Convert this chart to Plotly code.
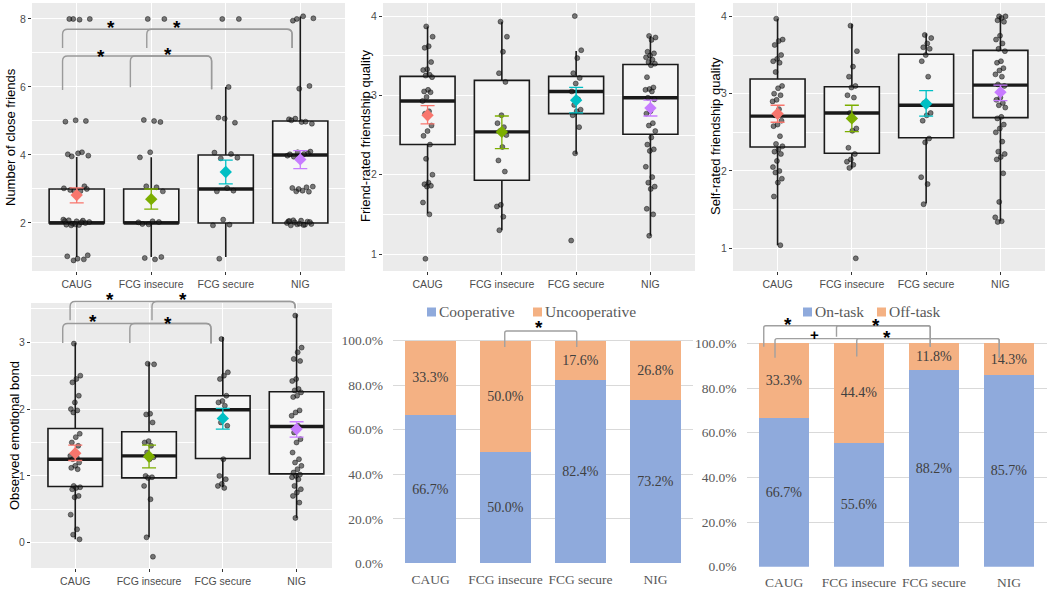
import plotly.graph_objects as go

W, H = 1050, 592

groups = ["CAUG", "FCG insecure", "FCG secure", "NIG"]
group_colors = ["#F8766D", "#7CAE00", "#00BFC4", "#C77CFF"]

# ---------------- Panel 1: Number of close friends ----------------
cf_caug = [8.0, 8.0, 7.98, 8.0, 5.0, 5.02, 4.98, 4.08, 3.96, 3.98, 4.05, 4.02, 3.08, 2.95,
           3.02, 2.94, 2.97, 3.0, 2.05, 1.95, 2.07, 1.98, 2.03, 1.94, 2.08, 2.0, 1.96, 2.06,
           2.02, 1.93, 1.05, 0.95, 1.02, 0.93, 0.9, 2.1]
cf_fcg_insecure = [8.0, 8.0, 5.0, 5.03, 4.97, 4.08, 3.93, 3.05, 3.08, 2.93, 2.05, 1.97,
                   2.03, 1.96, 2.02, 0.93, 0.97, 1.0]
cf_fcg_secure = [8.0, 8.0, 6.0, 5.1, 4.95, 5.07, 4.07, 4.03, 3.9, 3.92, 3.03, 2.93, 2.95,
                 2.1, 1.93, 1.95, 0.95]
cf_nig = [8.0, 8.02, 8.08, 7.95, 6.03, 5.95, 5.05, 4.98, 5.07, 4.92, 4.97, 5.02, 4.05, 4.08,
          3.98, 4.03, 3.95, 4.1, 3.97, 4.02, 3.05, 2.93, 3.07, 2.95, 3.03, 2.92, 3.0, 2.05,
          1.95, 2.02, 1.97, 2.07, 1.93, 2.04, 1.96, 2.0, 1.94, 2.08, 2.03, 1.98, 2.06]
cf_q1 = [2.0, 2.0, 2.0, 2.0]
cf_median = [2.0, 2.0, 3.0, 4.0]
cf_q3 = [3.0, 3.0, 4.0, 5.0]
cf_whisker_lo = [1.0, 1.0, 1.0, 2.0]
cf_whisker_hi = [3.94, 3.93, 6.0, 8.07]
cf_mean = [2.82, 2.70, 3.50, 3.87]
cf_ci_lo = [2.59, 2.41, 3.15, 3.60]
cf_ci_hi = [3.03, 3.00, 3.85, 4.13]

# ---------------- Panel 2: Friend-rated friendship quality ----------------
fr_caug = [3.87, 3.74, 3.62, 3.6, 3.42, 3.33, 3.32, 3.26, 3.25, 3.23, 3.07, 3.05, 3.04, 2.98,
           2.93, 2.8, 2.77, 2.62, 2.55, 2.49, 2.38, 2.2, 2.0, 1.9, 1.88, 1.86, 1.85, 1.65,
           1.5, 0.94]
fr_fcg_insecure = [3.93, 3.74, 3.55, 3.28, 3.17, 2.75, 2.65, 2.6, 2.55, 2.5, 2.35, 2.18,
                   2.04, 1.62, 1.6, 1.47, 1.3]
fr_fcg_secure = [4.0, 3.57, 3.47, 3.28, 3.22, 3.15, 3.05, 2.95, 2.88, 2.82, 2.8, 2.75, 2.6,
                 2.27, 1.17]
fr_nig = [3.75, 3.73, 3.7, 3.55, 3.53, 3.5, 3.48, 3.45, 3.42, 3.4, 3.38, 3.23, 3.1, 3.08,
          3.07, 3.05, 2.97, 2.95, 2.8, 2.77, 2.65, 2.62, 2.55, 2.47, 2.38, 2.32, 2.3, 2.1,
          1.97, 1.9, 1.85, 1.82, 1.57, 1.5, 1.23]
fr_q1 = [2.38, 1.93, 2.77, 2.51]
fr_median = [2.93, 2.54, 3.05, 2.97]
fr_q3 = [3.24, 3.19, 3.24, 3.39]
fr_whisker_lo = [1.51, 1.30, 2.26, 1.23]
fr_whisker_hi = [3.87, 3.93, 3.56, 3.75]
fr_mean = [2.75, 2.54, 2.94, 2.84]
fr_ci_lo = [2.64, 2.33, 2.78, 2.74]
fr_ci_hi = [2.87, 2.74, 3.10, 2.94]

# ---------------- Panel 3: Self-rated friendship quality ----------------
sr_caug = [3.97, 3.7, 3.68, 3.63, 3.5, 3.45, 3.42, 3.4, 3.28, 3.1, 3.07, 3.0, 2.98, 2.92,
           2.9, 2.8, 2.72, 2.65, 2.6, 2.58, 2.45, 2.35, 2.32, 2.28, 2.25, 2.22, 2.13, 2.05,
           2.0, 1.98, 1.9, 1.85, 1.67, 1.04]
sr_fcg_insecure = [3.88, 3.55, 3.35, 3.22, 3.1, 3.08, 2.98, 2.95, 2.75, 2.55, 2.52, 2.3,
                   2.22, 2.15, 2.12, 2.08, 2.04, 0.87]
sr_fcg_secure = [3.76, 3.72, 3.65, 3.6, 3.58, 3.5, 3.42, 3.22, 2.88, 2.75, 2.72, 2.65, 2.42,
                 2.37, 1.92, 1.83, 1.57]
sr_nig = [4.0, 4.0, 3.98, 3.95, 3.93, 3.75, 3.7, 3.65, 3.58, 3.55, 3.42, 3.4, 3.33, 3.3,
          3.25, 3.22, 3.12, 3.1, 2.95, 2.92, 2.88, 2.85, 2.82, 2.7, 2.68, 2.6, 2.55, 2.5,
          2.38, 2.25, 2.22, 2.18, 2.15, 1.97, 1.6, 1.4, 1.35, 1.34]
sr_q1 = [2.31, 2.23, 2.43, 2.69]
sr_median = [2.71, 2.75, 2.85, 3.11]
sr_q3 = [3.19, 3.09, 3.51, 3.56]
sr_whisker_lo = [1.04, 2.03, 1.58, 1.35]
sr_whisker_hi = [3.97, 3.90, 3.78, 4.0]
sr_mean = [2.74, 2.68, 2.87, 3.02]
sr_ci_lo = [2.63, 2.51, 2.71, 2.91]
sr_ci_hi = [2.85, 2.85, 3.04, 3.11]

# ---------------- Panel 4: Observed emotional bond ----------------
eb_caug = [2.98, 2.5, 2.45, 2.4, 2.2, 2.1, 2.0, 1.98, 1.95, 1.63, 1.58, 1.5, 1.45, 1.35, 1.3,
           1.28, 1.25, 1.2, 1.15, 1.12, 1.1, 0.85, 0.83, 0.82, 0.8, 0.7, 0.68, 0.42, 0.2,
           0.12, 0.05]
eb_fcg_insecure = [2.68, 2.67, 1.93, 1.92, 1.8, 1.52, 1.5, 1.45, 1.35, 1.28, 1.25, 1.0, 0.98,
                   0.97, 0.85, 0.65, 0.08, -0.21]
eb_fcg_secure = [3.05, 2.55, 2.5, 2.45, 2.2, 2.12, 2.1, 2.05, 1.8, 1.75, 1.25, 1.0, 0.95,
                 0.88, 0.85, 0.82]
eb_nig = [3.4, 2.92, 2.85, 2.75, 2.72, 2.45, 2.42, 2.3, 2.28, 2.25, 2.2, 2.18, 1.98, 1.95,
          1.9, 1.75, 1.65, 1.55, 1.5, 1.35, 1.25, 1.2, 1.15, 1.1, 1.05, 1.02, 1.0, 0.98, 0.95,
          0.85, 0.8, 0.75, 0.7, 0.6, 0.37]
eb_q1 = [0.84, 0.97, 1.26, 1.03]
eb_median = [1.25, 1.30, 1.99, 1.74]
eb_q3 = [1.71, 1.66, 2.20, 2.26]
eb_whisker_lo = [0.05, 0.08, 0.83, 0.37]
eb_whisker_hi = [2.99, 2.70, 3.08, 3.42]
eb_mean = [1.34, 1.29, 1.86, 1.70]
eb_ci_lo = [1.23, 1.12, 1.70, 1.58]
eb_ci_hi = [1.46, 1.46, 2.01, 1.81]

# ---------------- Panels 5 & 6: stacked percentages ----------------
cooperative = [66.7, 50.0, 82.4, 73.2]
uncooperative = [33.3, 50.0, 17.6, 26.8]
on_task = [66.7, 55.6, 88.2, 85.7]
off_task = [33.3, 44.4, 11.8, 14.3]
pct_ticks = [0, 20, 40, 60, 80, 100]

blue, orange = "#8FAADC", "#F4B183"

# ---------------- layout geometry (pixels) ----------------
PANELS = {
    1: dict(xpx=(32, 345), ypx=(3, 271), xr=(0.4, 4.6), yr=(0.588, 8.47)),
    2: dict(xpx=(383, 695), ypx=(3, 271), xr=(0.4, 4.6), yr=(0.786, 4.165)),
    3: dict(xpx=(733, 1045), ypx=(3, 271), xr=(0.4, 4.6), yr=(0.706, 4.173)),
    4: dict(xpx=(31, 332), ypx=(303, 568), xr=(0.4, 4.48), yr=(-0.379, 3.588)),
    5: dict(xpx=(393, 693), ypx=(300, 563.3), xr=(-0.5, 3.5), yr=(0, 118.3)),
    6: dict(xpx=(746.5, 1046.5), ypx=(300, 566.7), xr=(-0.5, 3.5), yr=(0, 119.4)),
}

fig = go.Figure()


def sfx(p):
    return "" if p == 1 else str(p)


def to_px(p, xd, yd):
    P = PANELS[p]
    x0, x1 = P["xpx"]
    y0, y1 = P["ypx"]
    xr, yr = P["xr"], P["yr"]
    px = x0 + (xd - xr[0]) / (xr[1] - xr[0]) * (x1 - x0)
    py = y1 - (yd - yr[0]) / (yr[1] - yr[0]) * (y1 - y0)
    return px, py


def X(px):
    return px / W


def Y(py):
    return 1 - py / H


def jitter(n, spread):
    return [spread * (2 * ((k * 0.6180339887 + 0.37) % 1.0) - 1) for k in range(n)]


def add_box_panel(p, point_lists, q1, med, q3, lo, hi, mean, ci_lo, ci_hi, spread):
    xa, ya = "x" + sfx(p), "y" + sfx(p)
    xs = [1, 2, 3, 4]
    bw = 0.74
    fig.add_trace(go.Box(x=xs, q1=q1, median=med, q3=q3, lowerfence=lo, upperfence=hi,
                         width=bw, whiskerwidth=0, boxpoints=False, fillcolor="#F5F5F5",
                         line=dict(color="#1A1A1A", width=1.6), xaxis=xa, yaxis=ya,
                         showlegend=False, hoverinfo="skip"))
    mx, my = [], []
    for i, m in enumerate(med):
        mx += [xs[i] - bw / 2, xs[i] + bw / 2, None]
        my += [m, m, None]
    fig.add_trace(go.Scatter(x=mx, y=my, mode="lines", line=dict(color="#1A1A1A", width=3.4),
                             xaxis=xa, yaxis=ya, showlegend=False, hoverinfo="skip"))
    px, py = [], []
    for i, vals in enumerate(point_lists):
        offs = jitter(len(vals), spread)
        px += [xs[i] + o for o in offs]
        py += list(vals)
    fig.add_trace(go.Scatter(x=px, y=py, mode="markers",
                             marker=dict(size=5, color="rgba(35,35,35,0.6)",
                                         line=dict(color="rgba(0,0,0,0.7)", width=0.6)),
                             xaxis=xa, yaxis=ya, showlegend=False, hoverinfo="skip"))
    for i in range(4):
        fig.add_trace(go.Scatter(
            x=[xs[i]], y=[mean[i]], mode="markers",
            marker=dict(symbol="diamond", size=9.5, color=group_colors[i]),
            error_y=dict(type="data", symmetric=False, array=[ci_hi[i] - mean[i]],
                         arrayminus=[mean[i] - ci_lo[i]], color=group_colors[i],
                         thickness=1.3, width=7),
            xaxis=xa, yaxis=ya, showlegend=False, hoverinfo="skip"))


def box_axes(p, yticks, yminor):
    P = PANELS[p]
    s = sfx(p)
    fig.update_layout(**{
        "xaxis" + s: dict(domain=[X(P["xpx"][0]), X(P["xpx"][1])], range=list(P["xr"]),
                          tickvals=[1, 2, 3, 4], ticktext=groups, showgrid=True,
                          gridcolor="white", gridwidth=1.3, zeroline=False, ticks="outside",
                          ticklen=3, tickcolor="#333333", tickwidth=1,
                          tickfont=dict(family="Liberation Sans", size=10.5, color="#4D4D4D"),
                          anchor="y" + s, fixedrange=True, showline=False),
        "yaxis" + s: dict(domain=[Y(P["ypx"][1]), Y(P["ypx"][0])], range=list(P["yr"]),
                          tickvals=yticks, showgrid=True, gridcolor="white", gridwidth=1.3,
                          minor=dict(tickvals=yminor, showgrid=True, gridcolor="white",
                                     gridwidth=0.6),
                          zeroline=False, ticks="outside", ticklen=3, tickcolor="#333333",
                          tickwidth=1,
                          tickfont=dict(family="Liberation Sans", size=10.5, color="#4D4D4D"),
                          anchor="x" + s, fixedrange=True, showline=False),
    })
    fig.add_shape(type="rect", xref="x" + s + " domain", yref="y" + s + " domain",
                  x0=0, x1=1, y0=0, y1=1, fillcolor="#EBEBEB", line_width=0, layer="below")


add_box_panel(1, [cf_caug, cf_fcg_insecure, cf_fcg_secure, cf_nig], cf_q1, cf_median, cf_q3,
              cf_whisker_lo, cf_whisker_hi, cf_mean, cf_ci_lo, cf_ci_hi, 0.18)
add_box_panel(2, [fr_caug, fr_fcg_insecure, fr_fcg_secure, fr_nig], fr_q1, fr_median, fr_q3,
              fr_whisker_lo, fr_whisker_hi, fr_mean, fr_ci_lo, fr_ci_hi, 0.07)
add_box_panel(3, [sr_caug, sr_fcg_insecure, sr_fcg_secure, sr_nig], sr_q1, sr_median, sr_q3,
              sr_whisker_lo, sr_whisker_hi, sr_mean, sr_ci_lo, sr_ci_hi, 0.07)
add_box_panel(4, [eb_caug, eb_fcg_insecure, eb_fcg_secure, eb_nig], eb_q1, eb_median, eb_q3,
              eb_whisker_lo, eb_whisker_hi, eb_mean, eb_ci_lo, eb_ci_hi, 0.07)

box_axes(1, [2, 4, 6, 8], [1, 3, 5, 7])
box_axes(2, [1, 2, 3, 4], [1.5, 2.5, 3.5])
box_axes(3, [1, 2, 3, 4], [1.5, 2.5, 3.5])
box_axes(4, [0, 1, 2, 3], [0.5, 1.5, 2.5, 3.5])


def add_bar_panel(p, a_vals, b_vals, a_name, b_name):
    xa, ya = "x" + sfx(p), "y" + sfx(p)
    xs = [0, 1, 2, 3]
    for vals, col, name in [(a_vals, blue, a_name), (b_vals, orange, b_name)]:
        fig.add_trace(go.Bar(x=xs, y=vals, width=0.667, name=name,
                             marker=dict(color=col, line_width=0),
                             texttemplate="%{y:.1f}%", textposition="inside",
                             insidetextanchor="middle", textangle=0,
                             textfont=dict(family="Liberation Serif", size=14, color="#404040"),
                             xaxis=xa, yaxis=ya, showlegend=False, hoverinfo="skip"))
    P = PANELS[p]
    s = sfx(p)
    fig.update_layout(**{
        "xaxis" + s: dict(domain=[X(P["xpx"][0]), X(P["xpx"][1])], range=list(P["xr"]),
                          tickvals=xs, ticktext=groups, showgrid=False, zeroline=False,
                          ticks="", ticklabelstandoff=6,
                          tickfont=dict(family="Liberation Serif", size=13.5, color="#595959"),
                          anchor="y" + s, fixedrange=True, showline=False),
        "yaxis" + s: dict(domain=[Y(P["ypx"][1]), Y(P["ypx"][0])], range=list(P["yr"]),
                          tickvals=pct_ticks, ticktext=["%.1f%%" % v for v in pct_ticks],
                          showgrid=True, gridcolor="#D9D9D9", gridwidth=1, zeroline=False,
                          ticks="", ticklabelstandoff=9,
                          tickfont=dict(family="Liberation Serif", size=13.5, color="#595959"),
                          anchor="x" + s, fixedrange=True, showline=False),
    })


add_bar_panel(5, cooperative, uncooperative, "Cooperative", "Uncooperative")
add_bar_panel(6, on_task, off_task, "On-task", "Off-task")

# ---------------- significance brackets ----------------
brackets = [
    (1, 0.81, 3.89, 7.70, 7.15, 7.15, 5),
    (1, 1.94, 3.89, 7.70, 7.15, 7.15, 5),
    (1, 0.81, 2.81, 6.91, 5.91, 5.93, 5),
    (1, 1.72, 2.81, 6.91, 5.99, 5.93, 5),
    (4, 0.93, 3.98, 3.61, 3.33, 3.51, 5),
    (4, 2.04, 3.98, 3.61, 3.33, 3.51, 5),
    (4, 0.83, 2.84, 3.28, 2.99, 2.98, 5),
    (4, 1.74, 2.84, 3.28, 2.99, 2.98, 5),
    (5, 0.99, 1.95, 104.4, 97.2, 97.2, 2),
    (6, -0.27, 1.95, 107.9, 98.5, 98.5, 2),
    (6, 0.70, 1.95, 107.9, 103.0, 98.5, 2),
    (6, -0.12, 2.87, 102.1, 93.6, 93.6, 2),
    (6, 0.97, 2.87, 102.1, 94.1, 93.6, 2),
]
for p, xl, xr_, yt, ybl, ybr, r in brackets:
    lx, ty = to_px(p, xl, yt)
    rx, _ = to_px(p, xr_, yt)
    _, lby = to_px(p, xl, ybl)
    _, rby = to_px(p, xr_, ybr)
    path = (f"M {X(lx)},{Y(lby)} L {X(lx)},{Y(ty + r)} Q {X(lx)},{Y(ty)} {X(lx + r)},{Y(ty)} "
            f"L {X(rx - r)},{Y(ty)} Q {X(rx)},{Y(ty)} {X(rx)},{Y(ty + r)} L {X(rx)},{Y(rby)}")
    col = "#9A9A9A" if p in (1, 4) else "#A0A0A0"
    fig.add_shape(type="path", path=path, xref="paper", yref="paper",
                  line=dict(color=col, width=1.4), layer="above")

marks = [
    (1, 1.46, 7.89, "*"), (1, 2.35, 7.89, "*"), (1, 1.33, 7.04, "*"), (1, 2.22, 7.09, "*"),
    (4, 1.47, 3.71, "*"), (4, 2.46, 3.71, "*"), (4, 1.24, 3.38, "*"), (4, 2.26, 3.36, "*"),
    (5, 1.45, 108.0, "*"),
    (6, 0.05, 110.6, "*"), (6, 1.22, 110.3, "*"), (6, 0.40, 103.9, "+"), (6, 1.37, 104.8, "*"),
]
for p, xd, yd, t in marks:
    mx_, my_ = to_px(p, xd, yd)
    if t == "*":
        fig.add_annotation(x=X(mx_), y=Y(my_ + 5), xref="paper", yref="paper", text="<b>*</b>",
                           showarrow=False, xanchor="center", yanchor="middle",
                           font=dict(family="Liberation Sans", size=19, color="black"))
    else:
        fig.add_annotation(x=X(mx_), y=Y(my_), xref="paper", yref="paper", text="<b>+</b>",
                           showarrow=False, xanchor="center", yanchor="middle",
                           font=dict(family="Liberation Sans", size=15, color="black"))

# ---------------- axis titles ----------------
axis_titles = [("Number of close friends", 11, 137), ("Friend-rated friendship quality", 365, 136),
               ("Self-rated friendship quality", 715, 136), ("Observed emotional bond", 14, 436)]
for t, ax_, ay_ in axis_titles:
    fig.add_annotation(x=X(ax_), y=Y(ay_), xref="paper", yref="paper", text=t, textangle=-90,
                       showarrow=False, xanchor="center", yanchor="middle",
                       font=dict(family="Liberation Sans", size=13, color="black"))

# ---------------- legends for bar panels ----------------
legend_items = [(427, "Cooperative", blue), (533, "Uncooperative", orange),
                (803, "On-task", blue), (877, "Off-task", orange)]
for lx0, label, col in legend_items:
    fig.add_shape(type="rect", xref="paper", yref="paper", x0=X(lx0), x1=X(lx0 + 9),
                  y0=Y(316.5), y1=Y(307.5), fillcolor=col, line_width=0)
    fig.add_annotation(x=X(lx0 + 10), y=Y(312), xref="paper", yref="paper", text=label,
                       showarrow=False, xanchor="left", yanchor="middle",
                       font=dict(family="Liberation Serif", size=15.5, color="#595959"))

fig.update_layout(width=W, height=H, margin=dict(l=0, r=0, t=0, b=0),
                  paper_bgcolor="white", plot_bgcolor="white", barmode="stack",
                  showlegend=False, template="none")

fig.write_html("out.html", config={"displayModeBar": False},
               post_script="document.body.style.margin='0';"
                           "document.documentElement.style.overflow='hidden';")
